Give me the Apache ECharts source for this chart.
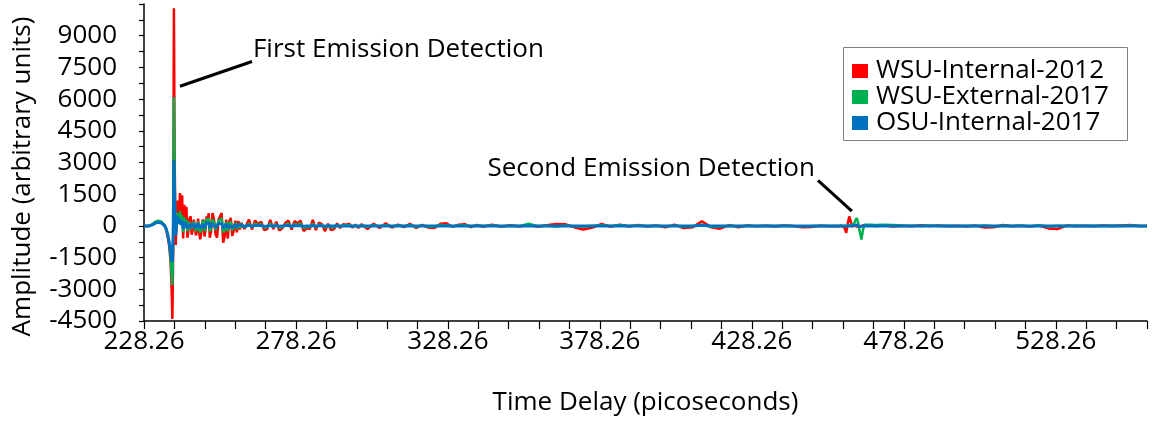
<!DOCTYPE html>
<html>
<head>
<meta charset="utf-8">
<script src="https://cdn.jsdelivr.net/npm/echarts@6/dist/echarts.min.js"></script>
<style>
html,body{margin:0;padding:0;background:#fff;}
#chart{width:1152px;height:421px;}
</style>
</head>
<body>
<div id="chart"></div>
<script>
// ---- data (time delay in picoseconds, amplitude in arbitrary units) ----
const T0 = 228.26;
const timePs = [
  228.26, 230, 231, 232, 233, 234, 235, 235.6, 236.1, 236.6, 237.0, 237.3, 237.6, 237.85, 238.1, 238.35,
  238.7, 239.05, 239.4, 239.75, 240.1, 240.45, 240.8, 241.15, 241.5, 241.85, 242.2, 242.55, 242.9, 243.25, 243.6, 243.95, 244.3, 244.65, 245.0, 245.35, 245.7, 246.05, 246.4, 246.75, 247.1, 247.45, 247.8, 248.15, 248.5, 248.85, 249.2, 249.55, 249.9,
  250.3, 250.8, 251.3, 251.8, 252.3, 252.8, 253.3, 253.8, 254.3, 254.8, 255.3, 255.8, 256.3, 256.8, 257.3, 257.8, 258.3, 258.8, 259.3, 259.8, 260.3, 260.8, 261.3, 261.8,
  262.8, 263.8, 264.8, 265.8, 266.8, 267.8, 268.8, 269.8, 270.8, 271.8, 272.8, 273.8, 274.8, 275.8, 276.8, 277.8, 278.8, 279.8, 280.8, 281.8, 282.8, 283.8, 284.8, 285.8, 286.8, 287.8, 288.8, 289.8, 290.8, 291.8, 292.8, 293.8, 294.8, 295.8, 296.8, 297.8, 298.8, 299.8,
  301.8, 303.8, 305.8, 307.8, 309.8, 311.8, 313.8, 315.8, 317.8, 319.8, 321.8, 323.8, 325.8, 327.8, 329.8, 331.8, 333.8, 335.8, 337.8, 339.8,
  342.8, 345.8, 348.8, 351.8, 354.8, 357.8, 360.8, 363.8, 366.8, 369.8, 372.8, 375.8, 378.8, 381.8, 384.8, 387.8, 390.8, 393.8, 396.8, 399.8, 402.8, 405.8, 408.8, 411.8, 414.8, 417.8, 420.8, 423.8, 426.8, 429.8, 432.8, 435.8, 438.8, 441.8, 444.8, 447.8, 450.8, 453.8,
  455.8, 456.8, 457.8, 458.3, 458.8, 459.3, 459.8, 460.3, 460.8, 461.3, 461.8, 462.3, 462.8, 463.3, 463.8, 464.3, 464.8, 465.3, 465.8, 466.8, 467.8, 468.8,
  471.8, 474.8, 477.8, 480.8, 483.8, 486.8, 489.8, 492.8, 495.8, 498.8, 501.8, 504.8, 507.8, 510.8, 513.8, 516.8, 519.8, 522.8, 525.8, 528.8, 531.8, 534.8, 537.8, 540.8, 543.8, 546.8, 549.8, 552.8, 555.8, 558.26
];
const wsuInternal2012 = [
  0, 0, 60, 170, 220, 170, 20, -200, -550, -1000, -1700, -2700, -4400, -1200, 10300, 3000,
  -900, 600, 1200, 300, 1550, 200, 1450, -600, 1000, 300, 900, -560, -200, 350, 450, -420, -150, 300, 250, -450, -200, 350, -300, -640, -300, 200, 300, -500, -200, 450, 200, 600, -560,
  -300, 610, 300, -400, -560, 300, 450, 610, -800, -500, 300, -600, 200, 375, -470, -200, 250, -300, 230, -170, 150, 200, -150, -100,
  300, -170, 250, 100, 200, -200, -150, 280, -150, 200, -220, -100, 150, 250, -180, 230, 120, 250, -250, -100, -150, 280, -200, 150, 80, -250, 100, -200, -150, 120, -100, 80, 60, 100, -80, 60, -100, 80,
  -150, 100, -100, 120, -80, 60, -60, 100, -100, 50, -80, -100, 100, 120, -50, 60, 80, -60, 50, -40,
  60, -40, 30, -30, 50, -40, 30, 90, 80, -60, -170, -80, 90, -40, 60, -30, 40, -30, 20, -70, 60, -100, -60, 220, -60, -130, 40, -60, 20, -20, 10, -30, 20, -10, -60, -50, 10, -20,
  0, -20, 10, 0, -100, -330, 100, 450, 200, -50, 50, 100, -30, 20, -40, 20, 30, -20, 20, 10, 20, 0,
  20, -30, 10, -20, 30, -10, 20, -20, 10, -30, 20, -80, -60, 40, -20, 10, -30, 20, -120, -150, 20, -20, 10, -20, 20, -10, 20, 40, -10, 0
];
const wsuExternal2017 = [
  0, 0, 80, 200, 240, 200, 40, -150, -450, -900, -1500, -2200, -2800, -800, 6100, 2000,
  -400, 300, 600, 100, 700, 100, 500, -300, 400, 150, 300, -250, -100, 200, 250, -150, -100, 200, 150, -250, -100, 200, -150, -300, -150, 150, 250, -250, -100, 350, 150, 375, -250,
  -150, 300, 200, -200, -250, 250, 300, 350, -300, -200, 200, -250, 100, 200, -200, -100, 150, -150, 120, -100, 100, 120, -80, -60,
  120, -80, 100, 60, 80, -90, -70, 110, -60, 80, -90, -50, 60, 100, -70, 90, 50, 110, -100, -50, -60, 100, -80, 60, 40, -90, 40, -80, -60, 50, -40, 30, 30, 40, -30, 20, -40, 30,
  -50, 40, -30, 50, -30, 30, -20, 40, -40, 20, -30, -30, 40, 30, -20, 20, 30, -20, 20, -10,
  20, -20, 10, -10, 100, -10, 10, -30, 20, -20, -30, 10, 30, -10, 40, -10, 20, -10, 10, -20, 20, -30, -10, 60, -40, -30, 10, -20, 10, -10, 10, -10, 10, -10, -20, -10, 10, 0,
  0, 0, 10, 0, -20, -60, 20, 60, 30, -20, 80, 250, 375, 100, -300, -640, -200, 60, 80, 50, 60, 40,
  50, 40, 20, 10, -10, 20, -10, 10, -20, 10, -10, 20, -20, 10, -10, 20, -20, 30, -30, 10, -10, 20, -10, 10, -10, 10, -10, 20, -10, 0
];
const osuInternal2017 = [
  0, 0, 50, 130, 170, 130, 20, -150, -400, -800, -1200, -1550, -1700, -500, 3100, 1000,
  -450, 300, 450, 100, 300, 50, 250, -150, 200, 80, 150, -120, -50, 100, 120, -80, -50, 100, 80, -100, -50, 100, -60, -120, -60, 80, 100, -100, -50, 150, 60, 150, -100,
  -60, 120, 80, -80, -100, 100, 120, 130, -120, -80, 80, -100, 40, 80, -80, -40, 60, -60, 50, -40, 40, 50, -30, -20,
  30, -20, 25, 15, 20, -20, -15, 25, -15, 20, -20, -10, 15, 20, -15, 15, 10, 20, -20, -10, -10, 15, -15, 10, 5, -15, 5, -10, -10, 5, 0, 0, 0, 0, 0, 0, 0, 0,
  0, 0, 0, 0, 0, 0, 0, 0, 0, 0, 0, 0, 0, 0, 0, 0, 0, 0, 0, 0,
  0, 0, 0, 0, 0, 0, 0, 0, 0, 0, 0, 0, 0, 0, 0, 0, 0, 0, 0, 0, 0, 0, 0, 30, 0, 0, 0, 0, 0, 0, 0, 0, 0, 0, 0, 0, 0, 0,
  0, 0, 0, 0, 0, 0, 0, 10, 0, 0, 20, 30, 40, 10, -30, -40, -10, 0, 0, 0, 0, 0,
  0, 0, 0, 0, 0, 0, 0, 0, 0, 0, 0, 0, 0, 0, 0, 0, 0, 0, 0, 0, 0, 0, 0, 0, 0, 0, 0, 0, 0, 0
];
const seriesNames = ['WSU-Internal-2012', 'WSU-External-2017', 'OSU-Internal-2017'];
const seriesColors = ['#FF0000', '#00B050', '#0070C0'];
const xRange = [228.26, 558.26];   // ps
const xStep = 50;                  // major tick spacing, ps
const yRange = [-4500, 10500];
const yStep = 1500;
// annotations: label, text anchor (t, amplitude), leader line from / to
const annoFirst = { text: 'First Emission Detection', at: [264.1, 8344], from: [240.1, 6609], to: [263.8, 7781], align: 'left' };
const annoSecond = { text: 'Second Emission Detection', at: [449.0, 2719], from: [450.0, 2156], to: [461.15, 703], align: 'right' };

// ---- chart ----
const FONT = '"Open Sans", "Noto Sans", sans-serif';
const chart = echarts.init(document.getElementById('chart'), null, { renderer: 'canvas' });
const toSeries = vals => timePs.map((t, i) => [t - T0, vals[i]]);
const allVals = [wsuInternal2012, wsuExternal2017, osuInternal2017];

chart.setOption({
  animation: false,
  backgroundColor: '#ffffff',
  grid: { left: 144, right: 5, top: 4, bottom: 97, containLabel: false },
  xAxis: {
    type: 'value',
    min: xRange[0] - T0, max: xRange[1] - T0, interval: xStep,
    name: 'Time Delay (picoseconds)', nameLocation: 'middle', nameGap: 69,
    nameTextStyle: { color: '#000', fontSize: 26, fontFamily: FONT },
    axisLine: { onZero: false, lineStyle: { color: '#000', width: 1.5 } },
    axisTick: { show: true, inside: false, length: 8, lineStyle: { color: '#000', width: 1.2 } },
    minorTick: { show: true, splitNumber: 5, length: 8, lineStyle: { color: '#000', width: 1.2 } },
    splitLine: { show: false },
    axisLabel: { color: '#000', fontSize: 26, fontFamily: FONT, margin: 8, showMaxLabel: false,
      formatter: v => (v + T0).toFixed(2) }
  },
  yAxis: {
    type: 'value',
    min: yRange[0], max: yRange[1], interval: yStep,
    name: 'Amplitude (arbitrary units)', nameLocation: 'middle', nameGap: 108,
    nameTextStyle: { color: '#000', fontSize: 26, fontFamily: FONT, padding: [0, 28, 0, 0] },
    axisLine: { onZero: false, lineStyle: { color: '#000', width: 1.5 } },
    axisTick: { show: true, inside: false, length: 5, lineStyle: { color: '#000', width: 1.2 } },
    minorTick: { show: true, splitNumber: 2, length: 5, lineStyle: { color: '#000', width: 1.2 } },
    splitLine: { show: false },
    axisLabel: { color: '#000', fontSize: 26, fontFamily: FONT, margin: 27, showMaxLabel: false,
      formatter: v => String(v) }
  },
  legend: {
    orient: 'vertical', left: 852, top: 58,
    icon: 'rect', itemWidth: 16, itemHeight: 14, itemGap: 0,
    padding: 0,
    textStyle: { color: '#000', fontSize: 26, fontFamily: FONT, lineHeight: 24, padding: [0, 0, 0, 3] },
    data: seriesNames
  },
  series: seriesNames.map((n, k) => ({
    name: n, type: 'line', data: toSeries(allVals[k]),
    showSymbol: false, symbol: 'none', color: seriesColors[k],
    lineStyle: { color: seriesColors[k], width: k === 2 ? 3 : 2.5 },
    z: 2 + k
  }))
});

function drawAnnotations() {
  const px = p => chart.convertToPixel({ gridIndex: 0 }, [p[0] - T0, p[1]]);
  const items = [];
  // legend frame
  items.push({ type: 'rect', shape: { x: 843.5, y: 47.5, width: 284, height: 93 },
    style: { fill: null, stroke: '#808080', lineWidth: 1 }, z: 10 });
  [annoFirst, annoSecond].forEach(a => {
    const f = px(a.from), t = px(a.to), at = px(a.at);
    items.push({ type: 'line', shape: { x1: f[0], y1: f[1], x2: t[0], y2: t[1] },
      style: { stroke: '#000', lineWidth: 3 }, z: 10 });
    items.push({ type: 'text', x: at[0], y: at[1], z: 10,
      style: { text: a.text, fill: '#000', fontSize: 26, fontFamily: FONT, align: a.align, verticalAlign: 'middle' } });
  });
  chart.setOption({ graphic: items });
}
drawAnnotations();
</script>
</body>
</html>
